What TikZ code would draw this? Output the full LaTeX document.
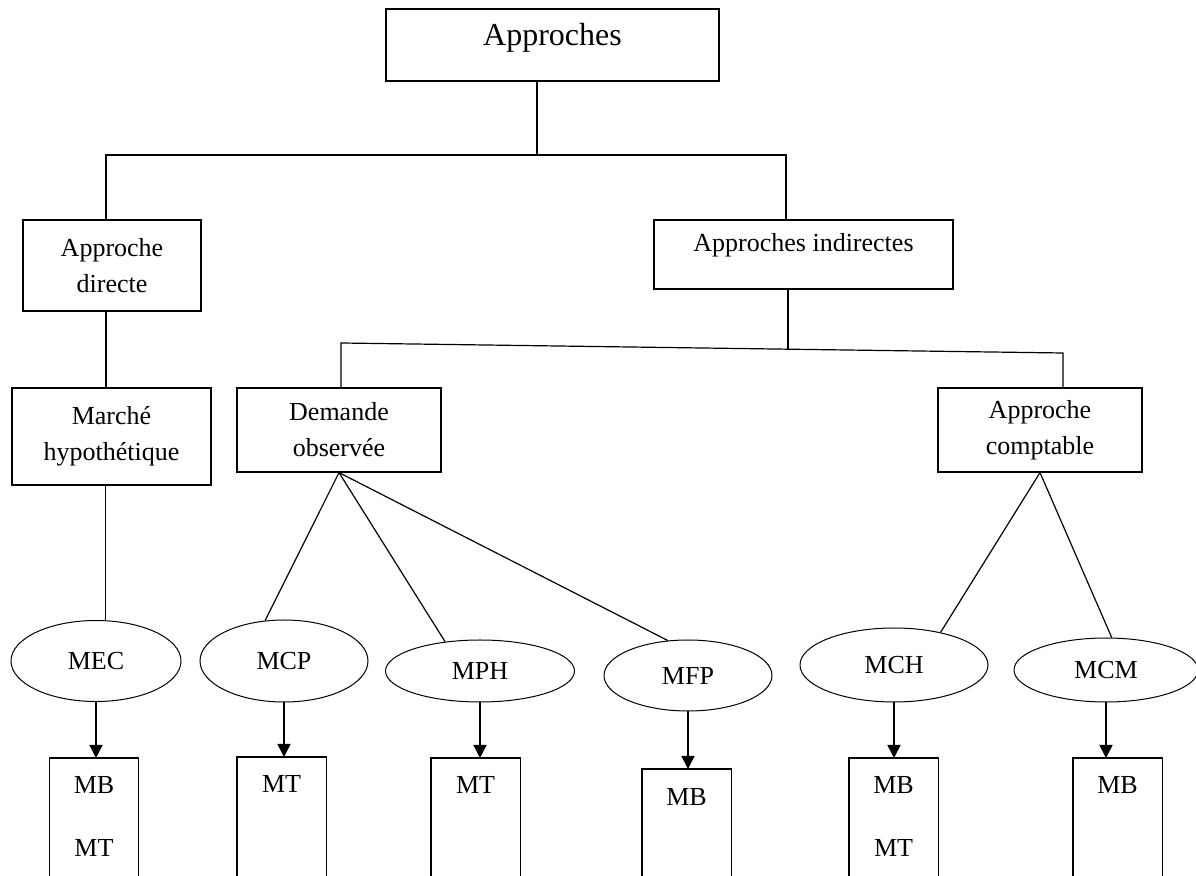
\documentclass[tikz,border=0pt]{standalone}
\usepackage{fontspec}
\setmainfont{Liberation Serif}
\usetikzlibrary{shapes.geometric,arrows.meta,positioning}

\begin{document}
\begin{tikzpicture}[x=0.5pt,y=-0.5pt,line width=0.6pt,
  every node/.style={font=\fontsize{13}{18}\selectfont},
  box/.style={draw,inner sep=0pt,align=center},
  oval/.style={draw,ellipse,inner sep=0pt,line width=0.5pt},
  leaf/.style={inner sep=0pt,minimum width=44pt,anchor=north},
  tip/.style={-{Triangle[length=6.5pt,width=6.5pt]},line width=0.8pt}]
\useasboundingbox (0,0) rectangle (1196,876);

% upper levels
\node (top) [box,minimum width=166.5pt,minimum height=36pt,text depth=10.5pt,font=\fontsize{16}{18}\selectfont] at (552.5,45) {Approches};
\node (directe) [box,minimum width=89pt,minimum height=45.5pt] at (112,265.5) {Approche\\directe};
\node (indirectes) [box,minimum width=149.5pt,minimum height=34.5pt,text depth=12pt] at (803.5,254.5) {Approches indirectes};
\node (marche) [box,minimum width=99.5pt,minimum height=48.5pt] at (111.5,436.5) {Marché\\hypothétique};
\node (demande) [box,minimum width=102pt,minimum height=42pt] at (339,430) {Demande\\observée};
\node (comptable) [box,minimum width=102pt,minimum height=42pt] at (1040,430) {Approche\\comptable};

\coordinate (j1) at (537,155);
\coordinate (j2) at (788,349);
\coordinate (l2) at (341,343);
\coordinate (r2) at (1063,353);
\coordinate (bot) at (0,876);

\draw (top.south -| j1) -- (j1);
\draw ([xshift=-3pt]directe.north) |- (j1) -| ([xshift=-8.75pt]indirectes.north);
\draw ([xshift=-3pt]directe.south) -- ([xshift=-3pt]directe.south |- marche.north);
\draw ([xshift=-7.75pt]indirectes.south) -- (j2);
\draw (l2 |- demande.north) -- (l2) -- (r2) -- (r2 |- comptable.north);

% methods
\node (mec) [oval,minimum width=85pt,minimum height=40.5pt] at (96,661) {MEC};
\node (mcp) [oval,minimum width=84pt,minimum height=41pt] at (284,661) {MCP};
\node (mph) [oval,minimum width=94.5pt,minimum height=31pt] at (480,671) {MPH};
\node (mfp) [oval,minimum width=84pt,minimum height=35.5pt] at (688,675.5) {MFP};
\node (mch) [oval,minimum width=94pt,minimum height=37pt] at (894,665) {MCH};
\node (mcm) [oval,minimum width=92pt,minimum height=32pt] at (1106,670) {MCM};

\draw ([xshift=-3pt]marche.south) -- ([xshift=-3pt]marche.south |- mec.north);
\draw (demande.south) -- (mcp.115);
\draw (demande.south) -- (mph.140);
\draw (demande.south) -- (mfp.120);
\draw (comptable.south) -- (mch.35);
\draw (comptable.south) -- (mcm.80);

% values
\node (b1) [leaf] at (94,758) {};
\node (b2) [leaf] at (281.5,757) {};
\node (b3) [leaf] at (475.5,758) {};
\node (b4) [leaf] at (686.5,769) {};
\node (b5) [leaf] at (893.5,758) {};
\node (b6) [leaf] at (1117.5,758) {};

\node (b1a) at ([yshift=-13.5pt]b1.north) {MB};
\node (b1b) at ([yshift=-45pt]b1.north) {MT};
\node (b2a) at ([yshift=-13.5pt]b2.north) {MT};
\node (b3a) at ([yshift=-13.5pt]b3.north) {MT};
\node (b4a) at ([yshift=-14pt]b4.north) {MB};
\node (b5a) at ([yshift=-13.5pt]b5.north) {MB};
\node (b5b) at ([yshift=-45pt]b5.north) {MT};
\node (b6a) at ([yshift=-13.5pt]b6.north) {MB};

\foreach \b in {b1,b2,b3,b4,b5,b6}
  \draw (\b.north west |- bot) -- (\b.north west) -- (\b.north east) -- (\b.north east |- bot);
\foreach \e/\b in {mec/b1,mcp/b2,mph/b3,mfp/b4,mch/b5,mcm/b6}
  \draw[tip] (\e.south) -- (\e.south |- \b.north);
\end{tikzpicture}
\end{document}
